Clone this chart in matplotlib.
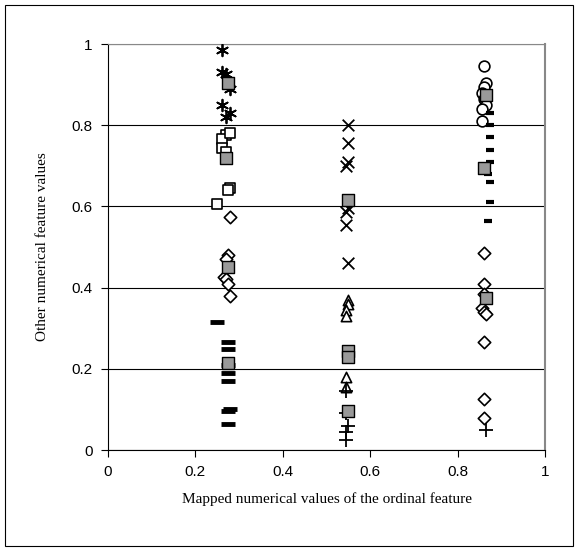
import matplotlib.pyplot as plt
from matplotlib.patches import Rectangle

# --- point data ---
# column near x=0.27
star_x = [0.26, 0.26, 0.27, 0.28, 0.26, 0.28, 0.27]
star_y = [0.985, 0.93, 0.925, 0.89, 0.85, 0.83, 0.82]
sq_x = [0.27, 0.26, 0.28, 0.26, 0.27, 0.28, 0.275, 0.25]
sq_y = [0.775, 0.765, 0.78, 0.745, 0.735, 0.645, 0.64, 0.605]
dia1_x = [0.28, 0.275, 0.27, 0.265, 0.27, 0.275, 0.28]
dia1_y = [0.575, 0.48, 0.47, 0.425, 0.42, 0.41, 0.38]
bar_x = [0.25, 0.275, 0.275, 0.275, 0.275, 0.275, 0.28, 0.275, 0.275]
bar_y = [0.315, 0.265, 0.25, 0.21, 0.19, 0.17, 0.10, 0.095, 0.065]

# column near x=0.55
cross_x = [0.55, 0.55, 0.55, 0.545, 0.55, 0.545, 0.545, 0.55]
cross_y = [0.80, 0.755, 0.71, 0.70, 0.595, 0.585, 0.555, 0.46]
tri_x = [0.55, 0.55, 0.545, 0.545, 0.545, 0.545]
tri_y = [0.37, 0.36, 0.345, 0.33, 0.18, 0.155]
plus2_x = [0.545, 0.545, 0.55, 0.545, 0.545]
plus2_y = [0.145, 0.09, 0.06, 0.045, 0.025]

# column near x=0.86
circ_x = [0.86, 0.865, 0.86, 0.855, 0.86, 0.865, 0.855, 0.855]
circ_y = [0.945, 0.905, 0.895, 0.88, 0.865, 0.85, 0.84, 0.81]
dash_x = [0.875, 0.875, 0.875, 0.875, 0.875, 0.87, 0.875, 0.875, 0.87]
dash_y = [0.83, 0.80, 0.77, 0.74, 0.71, 0.68, 0.66, 0.61, 0.565]
dia3_x = [0.86, 0.86, 0.86, 0.855, 0.86, 0.865, 0.86, 0.86, 0.86]
dia3_y = [0.485, 0.41, 0.385, 0.35, 0.34, 0.335, 0.265, 0.125, 0.08]
plus3_x = [0.865]
plus3_y = [0.05]

# gray filled squares
mean_x = [0.275, 0.27, 0.275, 0.275, 0.55, 0.55, 0.55, 0.55, 0.865, 0.86, 0.865]
mean_y = [0.905, 0.72, 0.45, 0.215, 0.615, 0.245, 0.23, 0.095, 0.875, 0.695, 0.375]

fig = plt.figure(figsize=(5.78, 5.51), dpi=100)
ax = fig.add_axes([108 / 578, 101 / 551, 437 / 578, 406 / 551])

fig.patches.append(Rectangle((5 / 578, 5 / 551), 568 / 578, 541 / 551,
                             transform=fig.transFigure, fill=False,
                             edgecolor='black', linewidth=0.8))

open_kw = dict(facecolor='white', edgecolor='black', linewidths=1.2, zorder=3)
ax.scatter(star_x, star_y, marker=(6, 2, 0), s=70, color='black', linewidths=1.3, zorder=3)
ax.scatter(sq_x, sq_y, marker='s', s=55, **open_kw)
ax.scatter(dia1_x, dia1_y, marker='D', s=40, **open_kw)
ax.scatter(bar_x, bar_y, marker='_', s=90, color='black', linewidths=3.5, zorder=3)
ax.scatter(cross_x, cross_y, marker='x', s=70, color='black', linewidths=1.3, zorder=3)
ax.scatter(tri_x, tri_y, marker='^', s=55, **open_kw)
ax.scatter(plus2_x + plus3_x, plus2_y + plus3_y, marker='+', s=110, color='black',
           linewidths=1.3, zorder=3)
ax.scatter(circ_x, circ_y, marker='o', s=60, **open_kw)
ax.scatter(dash_x, dash_y, marker='_', s=40, color='black', linewidths=3, zorder=3)
ax.scatter(dia3_x, dia3_y, marker='D', s=40, **open_kw)
ax.scatter(mean_x, mean_y, marker='s', s=65, facecolor='#999999', edgecolor='black',
           linewidths=1.0, zorder=4)

ax.set_xlim(0, 1)
ax.set_ylim(0, 1)
ax.set_xticks([0, 0.2, 0.4, 0.6, 0.8, 1])
ax.set_xticklabels(['0', '0.2', '0.4', '0.6', '0.8', '1'])
ax.set_yticks([0, 0.2, 0.4, 0.6, 0.8, 1])
ax.set_yticklabels(['0', '0.2', '0.4', '0.6', '0.8', '1'])
ax.yaxis.grid(True, color='black', linewidth=0.8)
ax.set_axisbelow(True)
ax.tick_params(direction='out', length=5, width=0.8, labelsize=11, pad=6)
for lab in ax.get_xticklabels() + ax.get_yticklabels():
    lab.set_family('Liberation Sans')

ax.spines['top'].set_color('#888888')
ax.spines['right'].set_color('#888888')
ax.spines['right'].set_linewidth(1.5)
ax.spines['left'].set_linewidth(0.8)
ax.spines['bottom'].set_linewidth(0.8)

ax.set_xlabel('Mapped numerical values of the ordinal feature',
              family='Liberation Serif', fontsize=11, labelpad=9)
ax.set_ylabel('Other numerical feature values', family='Liberation Serif',
              fontsize=11, labelpad=16)

fig.savefig('out.png', dpi=100)
